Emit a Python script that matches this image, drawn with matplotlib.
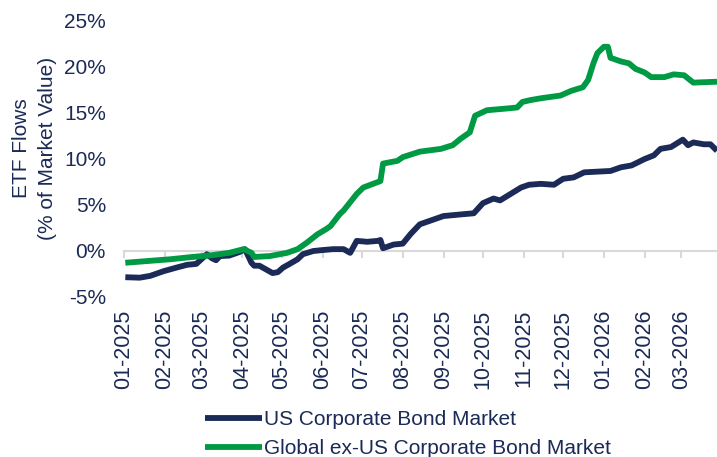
import matplotlib
matplotlib.use("Agg")
import matplotlib.pyplot as plt
import matplotlib.dates as mdates
import pandas as pd

plt.rcParams['font.family'] = ['Liberation Sans', 'DejaVu Sans']

# ---- data ----
us_dates = ["2025-01-02", "2025-01-13", "2025-01-21", "2025-01-31", "2025-02-10", "2025-02-18",
            "2025-02-25", "2025-03-05", "2025-03-09", "2025-03-12", "2025-03-15", "2025-03-22",
            "2025-03-30", "2025-04-03", "2025-04-08", "2025-04-10", "2025-04-14", "2025-04-19",
            "2025-04-24", "2025-04-28", "2025-05-02", "2025-05-07", "2025-05-13", "2025-05-17",
            "2025-05-25", "2025-06-01", "2025-06-09", "2025-06-17", "2025-06-22", "2025-06-27",
            "2025-07-05", "2025-07-13", "2025-07-15", "2025-07-17", "2025-07-25", "2025-08-01",
            "2025-08-07", "2025-08-14", "2025-08-22", "2025-09-01", "2025-09-16", "2025-09-24",
            "2025-10-01", "2025-10-09", "2025-10-14", "2025-10-22", "2025-10-30", "2025-11-05",
            "2025-11-14", "2025-11-24", "2025-12-01", "2025-12-09", "2025-12-17", "2026-01-06",
            "2026-01-14", "2026-01-22", "2026-02-01", "2026-02-08", "2026-02-13", "2026-02-21",
            "2026-03-02", "2026-03-06", "2026-03-10", "2026-03-18", "2026-03-23", "2026-03-28"]
us_values = [-2.85, -2.9, -2.7, -2.2, -1.8, -1.5,
             -1.4, -0.35, -0.8, -1.0, -0.55, -0.5,
             -0.1, 0.2, -1.3, -1.6, -1.6, -2.0,
             -2.4, -2.3, -1.8, -1.4, -0.9, -0.35,
             0.0, 0.1, 0.2, 0.2, -0.2, 1.1,
             1.0, 1.1, 1.2, 0.3, 0.7, 0.8,
             1.85, 2.9, 3.3, 3.8, 4.0, 4.1,
             5.2, 5.7, 5.5, 6.2, 6.9, 7.2,
             7.3, 7.2, 7.85, 8.0, 8.55, 8.7,
             9.1, 9.3, 10.0, 10.4, 11.1, 11.3,
             12.1, 11.5, 11.8, 11.6, 11.6, 10.9]

gl_dates = ["2025-01-02", "2025-01-18", "2025-02-05", "2025-02-22", "2025-03-09", "2025-03-22",
            "2025-04-02", "2025-04-08", "2025-04-10", "2025-04-22", "2025-05-05", "2025-05-13",
            "2025-05-20", "2025-05-28", "2025-06-04", "2025-06-07", "2025-06-14", "2025-06-17",
            "2025-06-27", "2025-07-02", "2025-07-15", "2025-07-17", "2025-07-28", "2025-08-01",
            "2025-08-14", "2025-08-30", "2025-09-08", "2025-09-14", "2025-09-21", "2025-09-25",
            "2025-10-04", "2025-10-20", "2025-10-27", "2025-10-31", "2025-11-06", "2025-11-14",
            "2025-11-29", "2025-12-07", "2025-12-16", "2025-12-20", "2025-12-24", "2025-12-27",
            "2026-01-01", "2026-01-04", "2026-01-06", "2026-01-14", "2026-01-20", "2026-01-25",
            "2026-02-01", "2026-02-06", "2026-02-16", "2026-02-23", "2026-03-03", "2026-03-10",
            "2026-03-28"]
gl_values = [-1.28, -1.1, -0.9, -0.65, -0.45, -0.2,
             0.2, -0.2, -0.65, -0.55, -0.2, 0.2,
             0.9, 1.8, 2.4, 2.7, 4.0, 4.4,
             6.2, 6.9, 7.6, 9.5, 9.8, 10.2,
             10.8, 11.1, 11.5, 12.2, 12.9, 14.7,
             15.3, 15.5, 15.6, 16.2, 16.4, 16.6,
             16.9, 17.4, 17.8, 18.6, 20.4, 21.5,
             22.2, 22.2, 21.0, 20.6, 20.4, 19.8,
             19.4, 18.9, 18.9, 19.2, 19.1, 18.3,
             18.4]

series_names = ["US Corporate Bond Market", "Global ex-US Corporate Bond Market"]
y_ticks = [-5, 0, 5, 10, 15, 20, 25]
y_label = "ETF Flows\n(% of Market Value)"

NAVY = "#1B2A56"
GREEN = "#009A44"
GRAY = "#D9D9D9"
FS = 15

fig = plt.figure(figsize=(7.17, 4.57), dpi=100)
ax = fig.add_axes([124 / 717, 1 - 297 / 457, 1 - 124 / 717, (297 - 21) / 457])

ax.plot(pd.to_datetime(us_dates), us_values, color=NAVY, lw=4.2, label=series_names[0],
        solid_joinstyle='round', solid_capstyle='butt')
ax.plot(pd.to_datetime(gl_dates), gl_values, color=GREEN, lw=4.2, label=series_names[1],
        solid_joinstyle='round', solid_capstyle='butt')

ax.set_xlim(pd.Timestamp("2025-01-01"), pd.Timestamp("2026-03-28"))
ax.set_ylim(-5, 25)
ax.set_yticks(y_ticks)
ax.set_yticklabels([f"{v}%" for v in y_ticks])
ax.tick_params(axis='y', length=0, pad=13, labelsize=FS, labelcolor=NAVY)

for s in ['top', 'right', 'left']:
    ax.spines[s].set_visible(False)
ax.spines['bottom'].set_position(('data', 0))
ax.spines['bottom'].set_color(GRAY)
ax.spines['bottom'].set_linewidth(1.5)
ax.spines['bottom'].set_zorder(0.5)

ax.xaxis.set_major_locator(mdates.MonthLocator())
ax.tick_params(axis='x', length=5, width=1.5, color=GRAY, labelbottom=False, direction='out')

sec = ax.secondary_xaxis('bottom')
sec.xaxis.set_major_locator(mdates.MonthLocator())
sec.xaxis.set_major_formatter(mdates.DateFormatter('%m-%Y'))
sec.spines['bottom'].set_visible(False)
sec.tick_params(axis='x', length=0, pad=9, labelsize=15.5, labelcolor=NAVY, labelrotation=90)

ax.set_ylabel(y_label, fontsize=FS, color=NAVY, linespacing=1.45)
ax.yaxis.set_label_coords(-0.113, 0.54)

fig.legend(loc='upper left', bbox_to_anchor=(205 / 717, 1 - 410 / 457), frameon=False,
           fontsize=FS, handlelength=2.75, handletextpad=0.1, labelspacing=0.5,
           borderpad=0, borderaxespad=0, labelcolor=NAVY)

fig.savefig("out.png", dpi=100)
